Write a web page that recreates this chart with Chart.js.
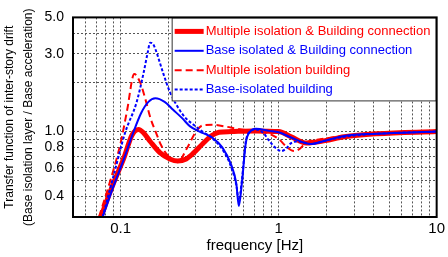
<!DOCTYPE html>
<html>
<head>
<meta charset="utf-8">
<script src="https://cdn.jsdelivr.net/npm/chart.js@4/dist/chart.umd.min.js"></script>
<style>
html,body{margin:0;padding:0;background:#fff;}
#wrap{width:448px;height:257px;position:relative;}
</style>
</head>
<body>
<div id="wrap"><canvas id="c" width="448" height="257"></canvas></div>
<script>
// ---- data ----
const seriesLabels = [
  'Multiple isolation & Building connection',
  'Base isolated & Building connection',
  'Multiple isolation building',
  'Base-isolated building'
];
const freqMultiConn = [0.075,0.09,0.105,0.118,0.13,0.14,0.154,0.178,0.205,0.23,0.26,0.29,0.33,0.38,0.42,0.5,0.7,1.0,1.2,1.5,1.97,2.6,4.2,10];
const valMultiConn  = [0.3,0.48,0.69,0.95,1.03,0.98,0.87,0.74,0.68,0.66,0.68,0.74,0.84,0.95,0.99,1.0,1.01,1.0,0.93,0.85,0.88,0.93,0.97,1.0];

const freqBaseConn = [0.077,0.09,0.105,0.12,0.135,0.15,0.166,0.19,0.215,0.247,0.274,0.316,0.38,0.44,0.5,0.54,0.56,0.585,0.62,0.66,0.72,0.87,1.0,1.2,1.6,1.97,2.6,4.2,10];
const valBaseConn  = [0.3,0.46,0.68,0.98,1.3,1.52,1.6,1.52,1.36,1.2,1.08,1.0,0.92,0.8,0.63,0.48,0.35,0.48,0.85,1.0,1.04,1.01,0.99,0.92,0.84,0.88,0.94,0.97,1.0];

const freqMultiBldg = [0.073,0.085,0.1,0.11,0.122,0.133,0.143,0.155,0.168,0.18,0.2,0.23,0.263,0.3,0.33,0.38,0.47,0.54,0.72,0.87,1.0,1.15,1.25,1.35,1.5,1.75,2.6,4.2,10];
const valMultiBldg  = [0.3,0.48,0.85,1.35,2.25,2.0,1.6,1.2,0.98,0.83,0.71,0.65,0.79,1.0,1.09,1.1,1.07,1.04,1.0,0.97,0.9,0.79,0.76,0.78,0.86,0.89,0.94,0.97,1.0];

const freqBaseBldg = [0.077,0.09,0.107,0.126,0.14,0.148,0.154,0.16,0.166,0.186,0.205,0.237,0.26,0.29,0.33,0.38,0.44,0.5,0.54,0.56,0.585,0.62,0.66,0.72,0.8,0.87,0.95,1.04,1.12,1.2,1.33,1.6,1.97,2.6,4.2,10];
const valBaseBldg  = [0.3,0.53,0.99,1.5,2.3,3.0,3.5,3.45,3.2,2.28,1.75,1.35,1.2,1.1,1.0,0.91,0.78,0.61,0.47,0.38,0.5,0.87,1.0,1.03,0.98,0.88,0.8,0.76,0.79,0.85,0.87,0.84,0.88,0.93,0.97,1.0];

const xGridValues = [0.06,0.07,0.08,0.09,0.1,0.2,0.3,0.4,0.5,0.6,0.7,0.8,0.9,1,2,3,4,5,6,7,8,9,10];
const xTickLabels = ['','','','','0.1','','','','','','','','','1','','','','','','','','','10'];
const yGridValues = [0.4,0.5,0.6,0.7,0.8,0.9,1,2,3,4,5];
const yTickLabels = ['0.4','','0.6','','0.8','','1.0','','3.0','','5.0'];

const xTitle = 'frequency [Hz]';
const yTitle = ['Transfer function of inter-story drift', '(Base isolation layer / Base acceleration)'];

// ---- build ----
function pts(fs, vs){ return fs.map((f,i)=>({x:f, y:vs[i]})); }

const RED = '#ff0000', BLUE = '#0000ff';
const datasets = [
  {label: seriesLabels[0], data: pts(freqMultiConn, valMultiConn), borderColor: RED, borderWidth: 5, borderDash: [], order: 4},
  {label: seriesLabels[1], data: pts(freqBaseConn, valBaseConn), borderColor: BLUE, borderWidth: 2, borderDash: [], order: 2},
  {label: seriesLabels[2], data: pts(freqMultiBldg, valMultiBldg), borderColor: RED, borderWidth: 2, borderDash: [7,4], order: 3},
  {label: seriesLabels[3], data: pts(freqBaseBldg, valBaseBldg), borderColor: BLUE, borderWidth: 2, borderDash: [3,2], order: 1}
].map(d => Object.assign(d, {pointRadius: 0, fill: false, cubicInterpolationMode: 'monotone', showLine: true}));

const framePlugin = {
  id: 'frameLegend',
  afterDatasetsDraw(chart){
    const {ctx, chartArea: a} = chart;
    ctx.save();
    // legend box inside top-right of plot
    const bx = a.right - 265, by = a.top, bw = 265, bh = 84;
    ctx.fillStyle = '#fff';
    ctx.fillRect(bx, by, bw, bh);
    ctx.strokeStyle = '#333';
    ctx.lineWidth = 1;
    ctx.strokeRect(bx + 0.5, by + 0.5, bw - 1, bh - 1);
    ctx.font = '13px "Liberation Sans", Arial, sans-serif';
    ctx.textBaseline = 'middle';
    chart.data.datasets.forEach((ds, i) => {
      const y = by + 14 + i * 19.4;
      ctx.beginPath();
      ctx.strokeStyle = ds.borderColor;
      ctx.lineWidth = ds.borderWidth;
      ctx.setLineDash(ds.borderDash || []);
      ctx.moveTo(bx + 3, y);
      ctx.lineTo(bx + 32, y);
      ctx.stroke();
      ctx.setLineDash([]);
      ctx.fillStyle = ds.borderColor;
      ctx.fillText(ds.label, bx + 34, y);
    });
    // frame
    ctx.strokeStyle = '#000';
    ctx.lineWidth = 2;
    ctx.strokeRect(a.left, a.top, a.right - a.left, a.bottom - a.top);
    ctx.restore();
  }
};

new Chart(document.getElementById('c'), {
  type: 'scatter',
  data: {datasets},
  plugins: [framePlugin],
  options: {
    responsive: false,
    animation: false,
    layout: {padding: {top: 13, right: 8, left: 0, bottom: 0}},
    plugins: {legend: {display: false}, tooltip: {enabled: false}},
    scales: {
      x: {
        type: 'logarithmic', min: 0.05, max: 10,
        afterBuildTicks(ax){ ax.ticks = xGridValues.map(v => ({value: v})); },
        afterFit(ax){ ax.height = 40; },
        ticks: {
          autoSkip: false, maxRotation: 0, padding: 3,
          color: '#000', font: {family: '"Liberation Sans", Arial, sans-serif', size: 15},
          callback: (v, i) => xTickLabels[i]
        },
        grid: {color: '#555', lineWidth: 1, drawTicks: false},
        border: {display: false, dash: [2, 2]},
        title: {display: true, text: xTitle, color: '#000', padding: {top: 0, bottom: 2},
                font: {family: '"Liberation Sans", Arial, sans-serif', size: 15, lineHeight: 1.2}}
      },
      y: {
        type: 'logarithmic', min: 0.3, max: 5,
        afterBuildTicks(ax){ ax.ticks = yGridValues.map(v => ({value: v})); },
        afterFit(ax){ ax.width = 73; },
        ticks: {
          autoSkip: false, padding: 9,
          color: '#000', font: {family: '"Liberation Sans", Arial, sans-serif', size: 14},
          callback: (v, i) => yTickLabels[i]
        },
        grid: {color: '#555', lineWidth: 1, drawTicks: false},
        border: {display: false, dash: [2, 2]},
        title: {display: true, text: yTitle, color: '#000', padding: 0,
                font: {family: '"Liberation Sans", Arial, sans-serif', size: 12, lineHeight: 1.6}}
      }
    }
  }
});
</script>
</body>
</html>
